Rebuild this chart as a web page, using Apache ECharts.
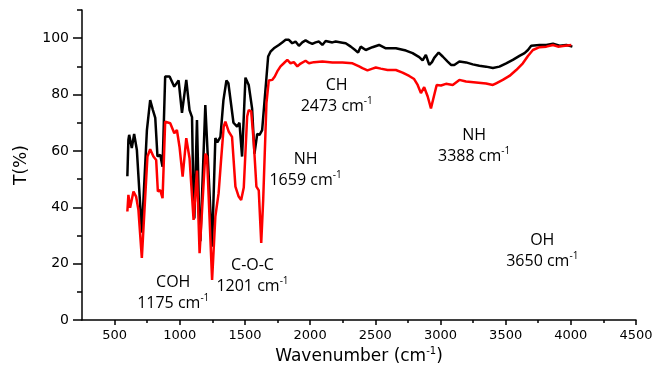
<!DOCTYPE html>
<html>
<head>
<meta charset="utf-8">
<script src="https://cdn.jsdelivr.net/npm/echarts@6/dist/echarts.min.js"></script>
<style>
  html, body { margin: 0; padding: 0; background: #fff; }
  #chart { width: 655px; height: 368px; }
</style>
</head>
<body>
<div id="chart"></div>
<script>
// spectrum 1 (black)
const blackWavenumber = [598, 606, 612, 632, 650, 671, 709, 748, 773, 794, 812, 829, 850, 868, 888, 922, 958, 991, 1017, 1050, 1075, 1094, 1106, 1112, 1132, 1152, 1158, 1196, 1248, 1273, 1288, 1312, 1335, 1358, 1373, 1388, 1412, 1440, 1458, 1478, 1504, 1529, 1555, 1573, 1594, 1612, 1632, 1645, 1665, 1678, 1696, 1722, 1760, 1786, 1812, 1837, 1863, 1888, 1914, 1940, 1965, 1991, 2017, 2042, 2068, 2094, 2119, 2171, 2196, 2248, 2273, 2312, 2350, 2368, 2388, 2427, 2478, 2529, 2581, 2658, 2735, 2786, 2837, 2863, 2888, 2914, 2935, 2952, 2986, 3017, 3055, 3081, 3106, 3145, 3196, 3248, 3298, 3350, 3402, 3452, 3504, 3555, 3606, 3645, 3671, 3696, 3760, 3812, 3863, 3914, 3966, 4012];
const blackT = [51, 64, 65.7, 61, 66, 60.3, 31, 67.4, 78, 74.5, 71.7, 58, 58.6, 54.4, 86.4, 86.4, 82.8, 85, 73.5, 85.2, 74.5, 72, 40, 36, 71, 30, 28, 76.3, 26, 64.6, 63, 65, 78, 85, 84, 84.6, 70, 68.6, 70, 58, 86, 83.4, 75, 59, 66, 65.7, 67.4, 67, 86, 93.5, 95.2, 96.4, 97.6, 98.5, 99.4, 99.4, 98.2, 98.8, 97.3, 98.5, 99.2, 98.5, 98, 98.5, 98.8, 97.6, 99, 98.5, 98.8, 98.4, 98.2, 97, 95.6, 94.9, 97, 95.8, 96.8, 97.6, 96.4, 96.4, 95.6, 94.7, 93.3, 92.1, 94.1, 90.5, 91.5, 93, 94.9, 93.5, 91.7, 90.5, 90.5, 91.7, 91.4, 90.7, 90.2, 89.9, 89.4, 89.9, 91.1, 92.3, 93.7, 94.7, 95.8, 97.3, 97.6, 97.6, 98, 97.3, 97.6, 97];

// spectrum 2 (red)
const redWavenumber = [598, 606, 619, 645, 665, 683, 709, 735, 752, 773, 798, 819, 832, 850, 868, 888, 927, 958, 978, 998, 1022, 1050, 1075, 1081, 1106, 1132, 1152, 1196, 1209, 1248, 1273, 1298, 1317, 1337, 1350, 1375, 1401, 1427, 1452, 1471, 1491, 1517, 1529, 1548, 1568, 1588, 1606, 1625, 1640, 1665, 1683, 1709, 1729, 1748, 1773, 1798, 1825, 1850, 1875, 1902, 1927, 1965, 1991, 2029, 2094, 2171, 2248, 2325, 2376, 2401, 2440, 2478, 2504, 2542, 2594, 2658, 2709, 2760, 2798, 2825, 2850, 2875, 2902, 2927, 2945, 2971, 3004, 3042, 3094, 3145, 3196, 3273, 3350, 3402, 3427, 3478, 3529, 3581, 3632, 3671, 3709, 3760, 3812, 3863, 3902, 3940, 4004];
const redT = [38.5, 44.4, 39.8, 45.6, 43.8, 39, 22, 43.8, 58, 60.6, 58, 56.8, 45.6, 46.1, 43.2, 70.4, 69.8, 66.3, 67.4, 61.5, 50.9, 64.5, 57.4, 56.8, 35.5, 53, 23.7, 59, 58, 14.2, 36.7, 45, 56.8, 68.6, 70.4, 66.9, 65, 47.3, 43.8, 42.6, 47, 72.2, 74.5, 74, 62.8, 47.3, 46, 27.3, 42.6, 77, 85, 85.2, 86.4, 88.2, 90, 91.1, 92.3, 91.1, 91.5, 90, 91, 92, 91.1, 91.5, 91.7, 91.4, 91.4, 91.1, 90, 89.4, 88.6, 89.2, 89.6, 89.2, 88.7, 88.7, 87.8, 86.6, 85.5, 83.4, 80.5, 82.6, 79.3, 75.1, 78.5, 83.4, 83.2, 83.8, 83.4, 85.2, 84.6, 84.3, 83.9, 83.4, 84, 85.2, 86.6, 88.7, 91.1, 93.7, 95.8, 96.8, 97, 97.6, 97, 97.2, 97.6];

// band annotations, placed in data coordinates
const bandName = ['CH', 'NH', 'NH', 'OH', 'COH', 'C-O-C'];
const bandPeak = ['2473', '1659', '3388', '3650', '1175', '1201'];
const bandWn = [2204, 1965, 3258, 3781, 950, 1558];
const bandT = [79.5, 53.2, 61.8, 24.5, 9.6, 15.6];

const xMajorTicks = [500, 1000, 1500, 2000, 2500, 3000, 3500, 4000, 4500];
const xMinorTicks = [750, 1250, 1750, 2250, 2750, 3250, 3750, 4250];
const yMajorTicks = [0, 20, 40, 60, 80, 100];
const yMinorTicks = [10, 30, 50, 70, 90, 110];

const zip = (a, b) => a.map((v, i) => [v, b[i]]);

const chart = echarts.init(document.getElementById('chart'));

const axisFont = 'DejaVu Sans';
const axisLine = { show: true, lineStyle: { color: '#000', width: 1.5 } };

chart.setOption({
  animation: false,
  backgroundColor: '#fff',
  grid: { left: 82, right: 19, top: 10, bottom: 48, outerBoundsMode: 'none' },
  xAxis: [
    {
      type: 'value',
      min: 250,
      max: 4500,
      axisLine,
      splitLine: { show: false },
      axisTick: { show: true, inside: false, length: 5, customValues: xMajorTicks, lineStyle: { color: '#000', width: 1.5 } },
      axisLabel: { customValues: xMajorTicks, formatter: v => String(v), margin: 9, color: '#000', fontFamily: axisFont, fontSize: 13 },
      name: '{n|Wavenumber (cm}{s|-1}{n|)}',
      nameLocation: 'middle',
      nameGap: 22,
      nameTextStyle: {
        rich: {
          n: { fontFamily: axisFont, fontSize: 17, color: '#000', lineHeight: 20 },
          s: { fontFamily: axisFont, fontSize: 10, color: '#000', lineHeight: 11, verticalAlign: 'top' }
        }
      }
    },
    {
      type: 'value',
      min: 250,
      max: 4500,
      axisLine: { show: false },
      splitLine: { show: false },
      axisTick: { show: true, length: 3, customValues: xMinorTicks, lineStyle: { color: '#000', width: 1.5 } },
      axisLabel: { show: false },
      position: 'bottom'
    }
  ],
  yAxis: [
    {
      type: 'value',
      min: 0,
      max: 110,
      axisLine,
      splitLine: { show: false },
      axisTick: { show: true, length: 9, customValues: yMajorTicks, lineStyle: { color: '#000', width: 1.5 } },
      axisLabel: { customValues: yMajorTicks, formatter: v => String(v), margin: 13, color: '#000', fontFamily: axisFont, fontSize: 14 },
      name: 'T(%)',
      nameLocation: 'middle',
      nameGap: 52,
      nameTextStyle: { fontFamily: axisFont, fontSize: 17, color: '#000' }
    },
    {
      type: 'value',
      min: 0,
      max: 110,
      position: 'left',
      axisLine: { show: false },
      splitLine: { show: false },
      axisTick: { show: true, length: 5, customValues: yMinorTicks, lineStyle: { color: '#000', width: 1.5 } },
      axisLabel: { show: false }
    }
  ],
  series: [
    {
      type: 'line',
      data: zip(blackWavenumber, blackT),
      showSymbol: false,
      lineStyle: { color: '#000', width: 2.5 },
      z: 2
    },
    {
      type: 'line',
      data: zip(redWavenumber, redT),
      showSymbol: false,
      lineStyle: { color: '#ff0000', width: 2.5 },
      z: 3
    },
    {
      type: 'scatter',
      symbolSize: 0,
      silent: true,
      z: 4,
      itemStyle: { opacity: 1 },
      data: bandName.map((n, i) => ({
        value: [bandWn[i], bandT[i]],
        label: { formatter: `{n|${n}}\n{n|${bandPeak[i]} cm}{s|-1}` }
      })),
      label: {
        show: true,
        position: 'inside',
        color: '#000',
        opacity: 1,
        rich: {
          n: { fontFamily: 'Open Sans', fontSize: 16, color: '#000', lineHeight: 21 },
          s: { fontFamily: 'Open Sans', fontSize: 10, color: '#000', lineHeight: 12, verticalAlign: 'top' }
        }
      }
    }
  ]
});
</script>
</body>
</html>
